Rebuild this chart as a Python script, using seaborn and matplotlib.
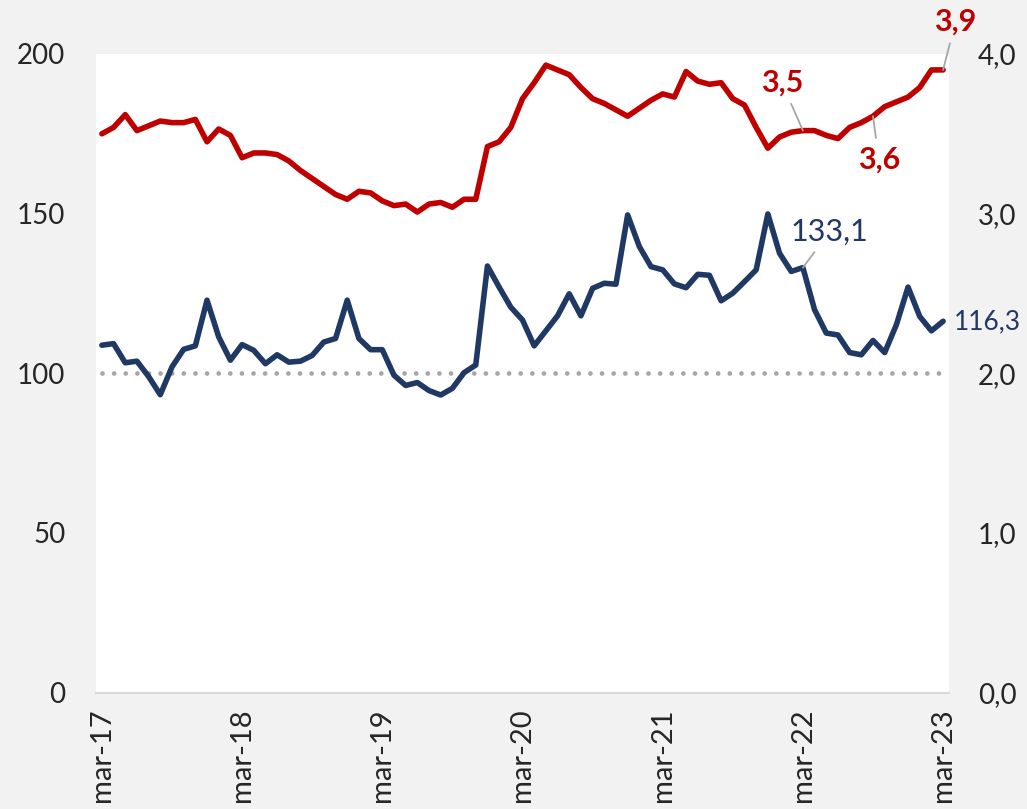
import numpy as np
import pandas as pd
import matplotlib
matplotlib.use("Agg")
import matplotlib.pyplot as plt
import seaborn as sns

# monthly data, mar-17 .. mar-23
months = pd.date_range("2017-03-01", "2023-03-01", freq="MS")
tick_labels = ["mar-17", "mar-18", "mar-19", "mar-20", "mar-21", "mar-22", "mar-23"]

# blue series, left axis
blue = [108.8, 109.3, 103.3, 103.8, 99.0, 93.3, 102.0, 107.5, 108.6, 122.9,
        111.4, 104.1, 109.0, 107.2, 103.0, 105.8, 103.5, 103.8, 105.6, 109.8,
        110.9, 122.9, 110.9, 107.4, 107.4, 99.4, 96.2, 97.1, 94.6, 93.2,
        95.3, 100.2, 102.6, 133.6, 127.0, 120.7, 116.7, 108.6, 113.3, 118.0,
        124.9, 118.0, 126.6, 128.2, 127.9, 149.6, 139.7, 133.4, 132.4, 128.0,
        126.8, 131.0, 130.7, 122.7, 125.1, 128.7, 132.4, 149.9, 137.6, 131.9,
        133.1, 119.9, 112.6, 112.0, 106.5, 105.8, 110.3, 106.5, 115.2, 127.0,
        117.8, 113.3, 116.3]

# red series, right axis
red = [3.50, 3.54, 3.62, 3.52, 3.55, 3.58, 3.57, 3.57, 3.59, 3.45,
       3.53, 3.49, 3.35, 3.38, 3.38, 3.37, 3.33, 3.27, 3.22, 3.17,
       3.12, 3.09, 3.14, 3.13, 3.08, 3.05, 3.06, 3.01, 3.06, 3.07,
       3.04, 3.09, 3.09, 3.42, 3.45, 3.54, 3.72, 3.82, 3.93, 3.90,
       3.87, 3.79, 3.72, 3.69, 3.65, 3.61, 3.66, 3.71, 3.75, 3.73,
       3.89, 3.83, 3.81, 3.82, 3.72, 3.68, 3.54, 3.41, 3.48, 3.51,
       3.52, 3.52, 3.49, 3.47, 3.54, 3.57, 3.61, 3.67, 3.70, 3.73,
       3.79, 3.90, 3.90]

baseline = 100

df = pd.DataFrame({"i": np.arange(len(months)), "blue": blue, "red": red})

sns.set_style("white")
plt.rcParams["font.family"] = ["Lato", "DejaVu Sans"]

BLUE = "#1f3864"
RED = "#c00000"
GREY = "#a6a6a6"

fig = plt.figure(figsize=(10.27, 8.09), dpi=100, facecolor="#f2f2f2")
ax = fig.add_axes([0.0935, 0.1438, 0.8305, 0.7895])
ax.set_facecolor("white")

# reference line at 100
ax.plot([0, len(months) - 1], [baseline, baseline], color=GREY, lw=3.4,
        linestyle=(0, (0.01, 2.45)), dash_capstyle="round", zorder=1)

sns.lineplot(data=df, x="i", y="blue", ax=ax, color=BLUE, lw=4.0, zorder=3)
ax.set_ylim(0, 200)
ax.set_xlim(-0.5, len(months) - 0.5)

ax2 = ax.twinx()
sns.lineplot(data=df, x="i", y="red", ax=ax2, color=RED, lw=4.0, zorder=3)
ax2.set_ylim(0, 4)

# axes cosmetics
for a in (ax, ax2):
    for s in ("top", "left", "right"):
        a.spines[s].set_visible(False)
    a.set_xlabel("")
    a.set_ylabel("")
ax2.spines["bottom"].set_visible(False)
ax.spines["bottom"].set_color("#d9d9d9")
ax.spines["bottom"].set_linewidth(1.5)

ax.set_yticks([0, 50, 100, 150, 200])
ax.set_yticklabels(["0", "50", "100", "150", "200"])
ax2.set_yticks([0, 1, 2, 3, 4])
ax2.set_yticklabels([f"{v:.1f}".replace(".", ",") for v in [0, 1, 2, 3, 4]])
ax.tick_params(axis="y", length=0, pad=22, labelsize=20)
ax2.tick_params(axis="y", length=0, pad=21, labelsize=20)

ax.set_xticks(np.arange(0, len(months), 12))
ax.set_xticklabels(tick_labels, rotation=90, va="top", ha="center")
ax.set_xticks(np.arange(-0.5, len(months) - 1, 12), minor=True)
ax.tick_params(axis="x", which="major", length=0, pad=11, labelsize=21)
ax.tick_params(axis="x", which="minor", length=7, width=1.5, color="#d9d9d9",
               direction="out")

# labels
lead = dict(arrowstyle="-", color=GREY, lw=1.3, shrinkA=3, shrinkB=0)
ax2.annotate("3,9", xy=(72, red[72]), xytext=(73.05, 4.20), ha="center", va="center",
             color=RED, fontsize=22, fontweight="bold", arrowprops=lead,
             annotation_clip=False)
ax2.annotate("3,5", xy=(60, red[60]), xytext=(58.2, 3.82), ha="center", va="center",
             color=RED, fontsize=22, fontweight="bold", arrowprops=lead)
ax2.annotate("3,6", xy=(66, red[66]), xytext=(66.5, 3.34), ha="center", va="center",
             color=RED, fontsize=22, fontweight="bold", arrowprops=lead)
ax.annotate("133,1", xy=(60, blue[60]), xytext=(62.3, 144.4), ha="center", va="center",
            color=BLUE, fontsize=22, arrowprops=lead)
ax.annotate("116,3", xy=(72, blue[72]), xytext=(72.96, 116.2), ha="left", va="center",
            color=BLUE, fontsize=19, annotation_clip=False)

fig.savefig("out.png", dpi=100, facecolor=fig.get_facecolor())
